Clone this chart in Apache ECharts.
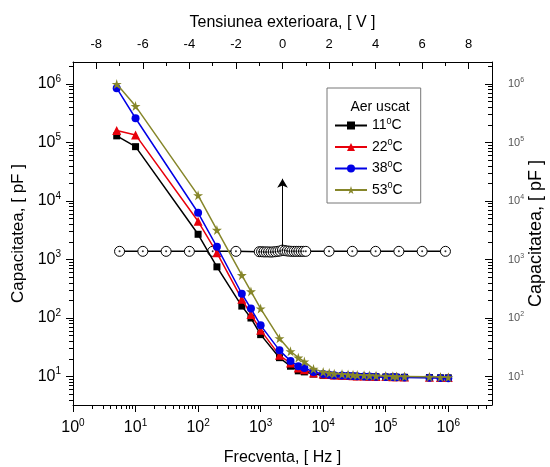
<!DOCTYPE html>
<html>
<head>
<meta charset="utf-8">
<title>Capacitatea - Aer uscat</title>
<script src="https://cdn.jsdelivr.net/npm/echarts@6/dist/echarts.min.js"></script>
</head>
<body style="margin:0;background:#fff">
<div id="main" style="width:550px;height:467px"></div>
<script>
// frecventa, Hz
var freq = [5, 10, 100, 200, 500, 700, 1e3, 2e3, 3e3, 4e3, 5e3, 7e3, 1e4, 1.25e4, 1.5e4, 2e4, 2.5e4, 3e4, 3.5e4, 4.5e4, 5.5e4, 7e4, 1e5, 1.3e5, 1.5e5, 2e5, 5e5, 7.5e5, 1e6];
var temps = ['11', '22', '38', '53'];
// capacitatea, pF
var c11 = [1.3e5, 8.5e4, 2.7e3, 750, 160, 100, 52, 21, 15, 12.5, 12, 11, 10.5, 10.4, 10.3, 10.2, 10.1, 10.1, 10, 10, 9.9, 9.9, 9.8, 9.8, 9.7, 9.7, 9.6, 9.5, 9.5];
var c22 = [1.6e5, 1.35e5, 4.5e3, 1.3e3, 210, 115, 62, 23, 17, 14, 13, 11.5, 11, 10.8, 10.6, 10.5, 10.4, 10.3, 10.2, 10.2, 10.1, 10, 10, 9.9, 9.9, 9.8, 9.7, 9.6, 9.6];
var c38 = [8.5e5, 2.6e5, 6.3e3, 1.65e3, 260, 145, 75, 28, 18.5, 15, 14, 12, 11, 10.7, 10.5, 10.4, 10.3, 10.2, 10.1, 10, 10, 9.9, 9.8, 9.8, 9.7, 9.6, 9.5, 9.4, 9.3];
var c53 = [1.0e6, 4.2e5, 1.25e4, 3.2e3, 540, 285, 145, 45, 27, 21, 18, 13.5, 12, 11.5, 11.2, 11, 10.8, 10.7, 10.6, 10.5, 10.4, 10.3, 10.2, 10.1, 10, 10, 9.9, 9.8, 9.7];
// tensiunea exterioara, V
var volt = [-7, -6, -5, -4, -3, -2, -1, -0.9, -0.8, -0.7, -0.6, -0.5, -0.4, -0.3, -0.2, -0.1, 0, 0.1, 0.2, 0.3, 0.4, 0.5, 0.6, 0.7, 0.8, 0.9, 1, 2, 3, 4, 5, 6, 7];
var cVolt = [1380, 1380, 1380, 1380, 1380, 1380, 1360, 1360, 1350, 1350, 1350, 1340, 1350, 1360, 1380, 1400, 1450, 1420, 1400, 1390, 1380, 1380, 1380, 1380, 1380, 1380, 1380, 1380, 1380, 1380, 1380, 1380, 1380];
var arrowFrom = [0, 1650];
var arrowTo = [0, 2.4e4];

var xTicks = [1, 10, 100, 1e3, 1e4, 1e5, 1e6];
var yTicks = [10, 100, 1e3, 1e4, 1e5, 1e6];
var vTicks = [-8, -6, -4, -2, 0, 2, 4, 6, 8];
var vMinor = [-7, -5, -3, -1, 1, 3, 5, 7];

var FONT = 'Liberation Sans, Arial, sans-serif';
var STAR = 'path://M50,0 L61,35 L98,35 L68,57 L79,91 L50,70 L21,91 L32,57 L2,35 L39,35 Z';

function logMinor(lo, hi) {
    var out = [];
    for (var d = lo; d < hi; d *= 10) {
        for (var k = 2; k <= 9; k++) out.push(d * k);
    }
    return out;
}
function pow10Label(v) {
    return '{b|10}{s|' + Math.round(Math.log10(v)) + '}';
}
function pairs(xs, ys) {
    return xs.map(function (x, i) { return [x, ys[i]]; });
}

var X_MIN = 1, X_MAX = 5e6, Y_MIN = 3.26, Y_MAX = 2.38e6;
var xMinor = logMinor(1, 1e7).filter(function (v) { return v < X_MAX; });
var yMinor = logMinor(1, 1e7).filter(function (v) { return v > Y_MIN && v < Y_MAX; });

var myChart = echarts.init(document.getElementById('main'));

var tempSeries = [
    {data: c11, color: '#000000', symbol: 'rect', size: 7},
    {data: c22, color: '#e8000b', symbol: 'triangle', size: 9},
    {data: c38, color: '#0000e6', symbol: 'circle', size: 8},
    {data: c53, color: '#86862a', symbol: STAR, size: 10}
].map(function (s, i) {
    return {
        name: temps[i] + '°C',
        type: 'line',
        xAxisIndex: 0,
        yAxisIndex: 0,
        data: pairs(freq, s.data),
        symbol: s.symbol,
        symbolSize: s.size,
        color: s.color,
        lineStyle: {width: 1.5, color: s.color},
        itemStyle: {color: s.color},
        z: 3 + i
    };
});

var voltSeries = [
    {
        name: 'tensiune',
        type: 'line',
        xAxisIndex: 1,
        yAxisIndex: 0,
        data: pairs(volt, cVolt),
        symbol: 'circle',
        symbolSize: 10,
        lineStyle: {width: 1.5, color: '#000'},
        itemStyle: {color: '#fff', borderColor: '#000', borderWidth: 1},
        z: 2,
        markLine: {
            silent: true,
            symbol: ['none', 'arrow'],
            symbolSize: [8, 9],
            label: {show: false},
            lineStyle: {color: '#000', width: 1, type: 'solid'},
            data: [[{coord: arrowFrom}, {coord: arrowTo}]]
        }
    },
    {
        name: 'tensiune-punct',
        type: 'scatter',
        xAxisIndex: 1,
        yAxisIndex: 0,
        data: pairs(volt, cVolt),
        symbol: 'circle',
        symbolSize: 2,
        itemStyle: {color: '#000'},
        z: 2.5
    }
];

var bigRich = {
    b: {fontSize: 16, fontFamily: FONT, color: '#000'},
    s: {fontSize: 10, fontFamily: FONT, color: '#000', padding: [0, 0, 10, 0]}
};
var smallRich = {
    b: {fontSize: 11, fontFamily: FONT, color: '#555'},
    s: {fontSize: 7, fontFamily: FONT, color: '#555', padding: [0, 0, 7, 0]}
};

// axa fara linie, doar cu gradatii mici
function tickOnly(type, pos, min, max, values, inside, len) {
    return {
        type: type, position: pos, min: min, max: max,
        axisLine: {show: false, onZero: false},
        axisTick: {show: true, customValues: values, inside: inside, length: len, lineStyle: {color: '#000'}},
        axisLabel: {show: false},
        splitLine: {show: false}
    };
}

myChart.setOption({
    animation: false,
    textStyle: {fontFamily: FONT},
    grid: {left: 73, right: 58, top: 62, bottom: 62, outerBoundsMode: 'none', containLabel: false},
    title: {
        text: 'Aer uscat',
        left: 375,
        top: 95,
        textAlign: 'center',
        textStyle: {fontSize: 14, fontWeight: 'normal', color: '#000', fontFamily: FONT}
    },
    legend: {
        data: temps.map(function (t) { return t + '°C'; }),
        orient: 'vertical',
        left: 327,
        top: 88,
        padding: [29, 18, 6, 7],
        itemGap: 6,
        itemWidth: 32,
        itemHeight: 10,
        borderColor: '#777',
        borderWidth: 1,
        formatter: function (name) {
            return '{t|' + name.replace('°C', '') + '}{s|0}{t|C}';
        },
        textStyle: {
            rich: {
                t: {fontSize: 14, fontFamily: FONT, color: '#000'},
                s: {fontSize: 9, fontFamily: FONT, color: '#000', padding: [0, 0, 8, 0]}
            }
        }
    },
    xAxis: [
        {
            type: 'log', position: 'bottom', min: X_MIN, max: X_MAX,
            name: 'Frecventa, [ Hz ]', nameLocation: 'middle', nameGap: 45,
            nameTextStyle: {fontSize: 16, color: '#000'},
            axisLine: {show: true, onZero: false, lineStyle: {color: '#000', width: 1}},
            axisTick: {show: true, customValues: xTicks, length: 7, lineStyle: {color: '#000'}},
            axisLabel: {customValues: xTicks, margin: 13, formatter: pow10Label, rich: bigRich},
            splitLine: {show: false}
        },
        {
            type: 'value', position: 'top', min: -9, max: 9,
            name: 'Tensiunea exterioara, [ V ]', nameLocation: 'middle', nameGap: 31,
            nameTextStyle: {fontSize: 16, color: '#000'},
            axisLine: {show: true, onZero: false, lineStyle: {color: '#000', width: 1}},
            axisTick: {show: true, customValues: vTicks, inside: true, length: 7, lineStyle: {color: '#000'}},
            axisLabel: {customValues: vTicks, margin: 11, fontSize: 13, color: '#000'},
            splitLine: {show: false}
        },
        tickOnly('log', 'bottom', X_MIN, X_MAX, xMinor, false, 4),
        tickOnly('value', 'top', -9, 9, vMinor, true, 4)
    ],
    yAxis: [
        {
            type: 'log', position: 'left', min: Y_MIN, max: Y_MAX,
            name: 'Capacitatea, [ pF ]', nameLocation: 'middle', nameGap: 46, nameRotate: 90,
            nameTextStyle: {fontSize: 17, color: '#000'},
            axisLine: {show: true, onZero: false, lineStyle: {color: '#000', width: 1}},
            axisTick: {show: true, customValues: yTicks, length: 7, lineStyle: {color: '#000'}},
            axisLabel: {customValues: yTicks, margin: 12, formatter: pow10Label, rich: bigRich},
            splitLine: {show: false}
        },
        {
            type: 'log', position: 'right', min: Y_MIN, max: Y_MAX,
            name: 'Capacitatea, [ pF ]', nameLocation: 'middle', nameGap: 35, nameRotate: 90,
            nameMoveOverlap: false,
            nameTextStyle: {fontSize: 18, color: '#000'},
            axisLine: {show: true, onZero: false, lineStyle: {color: '#000', width: 1}},
            axisTick: {show: true, customValues: yTicks, inside: true, length: 7, lineStyle: {color: '#000'}},
            axisLabel: {customValues: yTicks, margin: 16, formatter: pow10Label, rich: smallRich},
            splitLine: {show: false}
        },
        tickOnly('log', 'left', Y_MIN, Y_MAX, yMinor, false, 4),
        tickOnly('log', 'right', Y_MIN, Y_MAX, yMinor, true, 4)
    ],
    series: voltSeries.concat(tempSeries)
});
</script>
</body>
</html>
